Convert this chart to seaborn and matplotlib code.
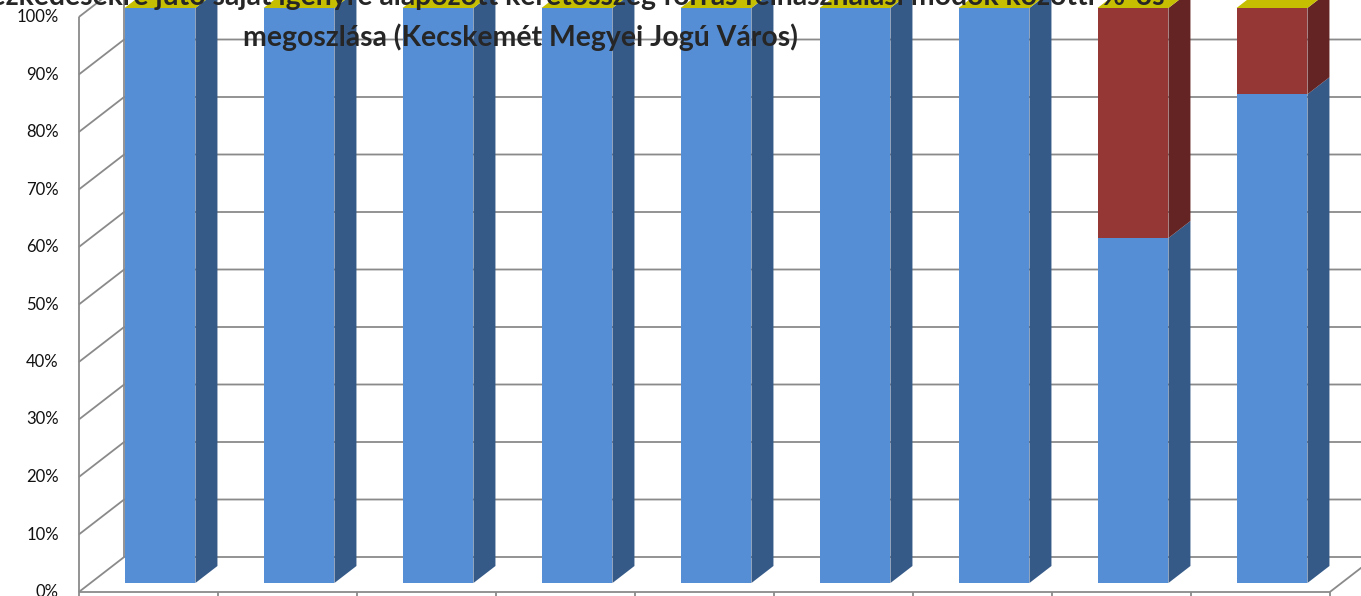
import matplotlib
matplotlib.use("Agg")
import matplotlib.pyplot as plt
from matplotlib.patches import Polygon
import seaborn as sns
import pandas as pd

# data (shares of the funding by mode of use, per measure)
categories = ["1", "2", "3", "4", "5", "6", "7", "8", "9"]
share_blue = [1.00, 1.00, 1.00, 1.00, 1.00, 1.00, 1.00, 0.60, 0.85]
share_red = [0.00, 0.00, 0.00, 0.00, 0.00, 0.00, 0.00, 0.40, 0.15]
share_yellow = [0.0, 0.0, 0.0, 0.0, 0.0, 0.0, 0.0, 0.0, 0.0]
ticks = [0.0, 0.1, 0.2, 0.3, 0.4, 0.5, 0.6, 0.7, 0.8, 0.9, 1.0]
tick_labels = ["0%", "10%", "20%", "30%", "40%", "50%", "60%", "70%", "80%", "90%", "100%"]

title1 = "Az intézkedésekre jutó saját igényre alapozott keretösszeg forrás felhasználási módok közötti %-os"
title2 = "megoszlása (Kecskemét Megyei Jogú Város)"

blue_front, blue_side = "#558ED5", "#365A88"
red_front, red_side = "#953735", "#632423"
yellow_top = "#C6BE00"
grid_col = "#8A8A8A"

sns.set_style("white")
plt.rcParams["font.family"] = ["Lato", "DejaVu Sans"]

W, H = 1361, 596
fig = plt.figure(figsize=(W / 100, H / 100), dpi=100)
ax = fig.add_axes([90.5 / W, 13 / H, 1251 / W, 575 / H])

df = pd.DataFrame({"cat": categories, "blue": share_blue, "red": share_red, "yellow": share_yellow})
df["total"] = df["blue"] + df["red"] + df["yellow"]

sns.barplot(data=df, x="cat", y="total", color=red_front, saturation=1, width=0.51, ax=ax, zorder=3)
sns.barplot(data=df, x="cat", y="blue", color=blue_front, saturation=1, width=0.51, ax=ax, zorder=3)
for p in ax.patches:
    p.set_edgecolor("none")
    p.set_clip_on(False)

ax.set_xlim(-0.5, len(categories) - 0.5)
ax.set_ylim(0, 1)
ax.axis("off")

# fake 3d: depth offsets in pixels (1.29 px right per 1 px up)
px_x = len(categories) / 1251
px_y = 1 / 575
ratio = 22 / 17


def P(x, y, k):
    return x + ratio * k * px_x, y + k * px_y


k_front, k_bar, k_back = -9, 17, 26
x_left, x_right = -0.5, len(categories) - 0.5

# walls and floor
kw = dict(color=grid_col, lw=1.3, clip_on=False, zorder=1, solid_capstyle="butt")
for v in ticks:
    a = P(x_left, v, k_front)
    b = P(x_left, v, k_back)
    c = P(x_right, v, k_back)
    ax.plot([a[0], b[0], c[0]], [a[1], b[1], c[1]], **kw)
a, b = P(x_left, 0, k_front), P(x_left, 1, k_front)
ax.plot([a[0], b[0]], [a[1], b[1]], **kw)
a, b = P(x_left, 0, k_back), P(x_left, 1, k_back)
ax.plot([a[0], b[0]], [a[1], b[1]], **kw)
a, b, c = P(x_left, 0, k_front), P(x_right, 0, k_front), P(x_right, 0, k_back)
ax.plot([a[0], b[0], c[0]], [a[1], b[1], c[1]], **kw)
for i in range(len(categories) + 1):
    a = P(x_left + i, 0, k_front)
    ax.plot([a[0], a[0]], [a[1], a[1] - 10 * px_y], **kw)

for v, lab in zip(ticks, tick_labels):
    a = P(x_left, v, k_front)
    ax.text(a[0] - 20 * px_x, a[1], lab, ha="right", va="center", fontsize=12, color="#111111", clip_on=False)

# side and top faces of the bars
n = len(categories)
blue_bars = ax.patches[n:2 * n]
ddx, ddy = ratio * k_bar * px_x, k_bar * px_y
for i, p in enumerate(blue_bars):
    x1 = p.get_x() + p.get_width()
    x0 = p.get_x()
    segs = [(0, share_blue[i], blue_side), (share_blue[i], share_blue[i] + share_red[i], red_side)]
    for y0, y1, col in segs:
        if y1 - y0 <= 0:
            continue
        ax.add_patch(Polygon([(x1, y0), (x1 + ddx, y0 + ddy), (x1 + ddx, y1 + ddy), (x1, y1)],
                             closed=True, facecolor=col, edgecolor="none", zorder=3, clip_on=False))
    top = df["total"][i]
    ax.add_patch(Polygon([(x0, top), (x1, top), (x1 + ddx, top + ddy), (x0 + ddx, top + ddy)],
                         closed=True, facecolor=yellow_top, edgecolor="none", zorder=3, clip_on=False))

fig.text(1165 / W, 1 + 3 / H, title1, ha="right", va="center", fontsize=20.4, fontweight="bold")
fig.text(520 / W, 1 - 37 / H, title2, ha="center", va="center", fontsize=20.4, fontweight="bold")

fig.savefig("out.png", dpi=100)
